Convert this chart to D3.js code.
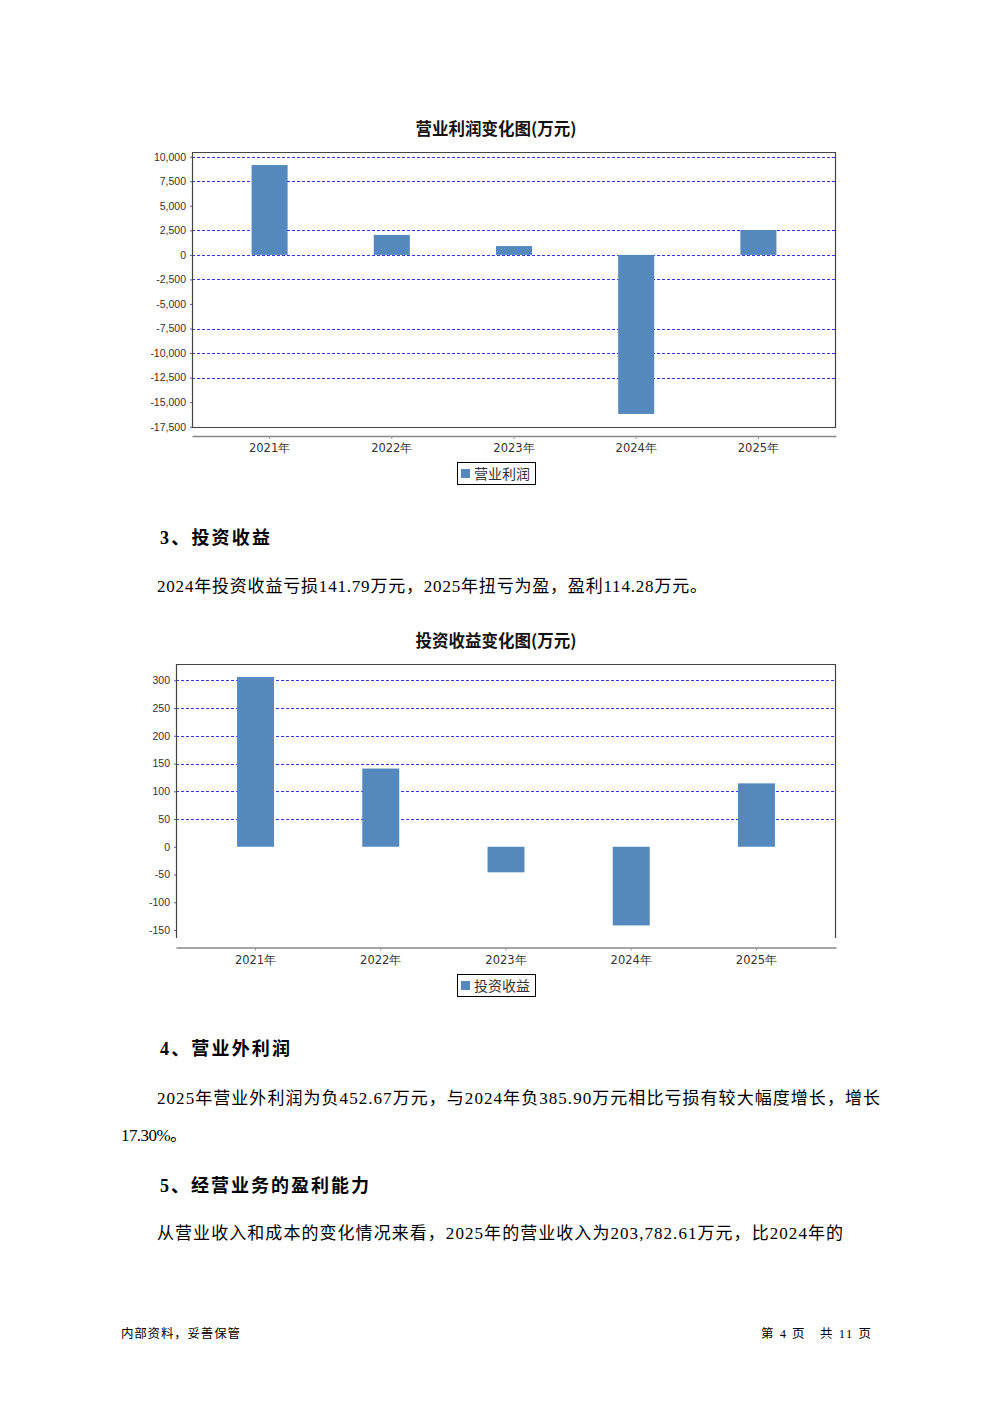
<!DOCTYPE html>
<html><head><meta charset="utf-8">
<script src="https://cdn.jsdelivr.net/npm/d3@7"></script>
<style>html,body{margin:0;padding:0;background:#fff;}svg{display:block;}</style>
</head><body>
<script>
const years = ["2021年","2022年","2023年","2024年","2025年"];
const profitValues = [9150, 2030, 900, -16200, 2540];
const profitTicks = [10000,7500,5000,2500,0,-2500,-5000,-7500,-10000,-12500,-15000,-17500];
const profitGrid = [10000,7500,2500,0,-2500,-7500,-10000,-12500,-17500];
const investValues = [306, 141, -46, -141.79, 114.28];
const investTicks = [300,250,200,150,100,50,0,-50,-100,-150];
const investGrid = [300,250,200,150,100,50];

const W = 992, H = 1403;
const svg = d3.select("body").append("svg").attr("width", W).attr("height", H);
svg.append("rect").attr("width", W).attr("height", H).attr("fill", "#fff");

const BAR = "#5589bd", GRID = "#3535ff";
const cjk = "'Noto Sans CJK SC', sans-serif";
const body = "'Liberation Serif', 'Noto Sans CJK SC', serif";
const fmt = d3.formatLocale({decimal: ".", thousands: ",", grouping: [3], currency: ["", ""], minus: "-"}).format(",");

function chart(opt) {
  const g = svg.append("g");
  const x = d3.scaleBand().domain(years).range([opt.left, opt.right]).paddingInner(0.705).paddingOuter(0.4875);
  const y = d3.scaleLinear().domain(opt.domain).range([opt.yBot, opt.yTop]);
  g.append("text").attr("x", 496).attr("y", opt.titleY).attr("text-anchor", "middle")
    .attr("font-family", cjk).attr("font-weight", "bold").attr("font-size", 16.5).attr("fill", "#111")
    .text(opt.title);
  g.selectAll("line.grid").data(opt.grid).join("line")
    .attr("x1", opt.left).attr("x2", opt.right)
    .attr("y1", d => Math.round(y(d)) + 0.5).attr("y2", d => Math.round(y(d)) + 0.5)
    .attr("stroke", GRID).attr("stroke-width", 1).attr("stroke-dasharray", "3,2");
  const fp = d3.path();
  fp.moveTo(opt.left + 0.5, opt.frameBot); fp.lineTo(opt.left + 0.5, opt.frameTop + 0.5);
  fp.lineTo(opt.right - 0.5, opt.frameTop + 0.5); fp.lineTo(opt.right - 0.5, opt.frameBot);
  if (opt.closeBottom) fp.lineTo(opt.left + 0.5, opt.frameBot);
  g.append("path").attr("d", fp.toString()).attr("fill", "none").attr("stroke", "#444").attr("stroke-width", 1.2);
  g.selectAll("rect.bar").data(opt.values).join("rect")
    .attr("x", (d, i) => x(years[i])).attr("width", x.bandwidth())
    .attr("y", d => y(Math.max(0, d))).attr("height", d => Math.abs(y(d) - y(0)))
    .attr("fill", BAR);
  const ya = d3.axisLeft(y).tickValues(opt.ticks).tickSize(2).tickPadding(4).tickFormat(fmt);
  const yg = g.append("g").attr("transform", `translate(${opt.left},0)`).call(ya);
  yg.select(".domain").remove();
  yg.selectAll("text").attr("font-family", "'Liberation Sans', Arial, sans-serif").attr("font-size", 10.5).attr("fill", "#333");
  yg.selectAll("line").attr("stroke", "#666");
  const xa = d3.axisBottom(x).tickSize(3).tickSizeOuter(0).tickPadding(5);
  const xg = g.append("g").attr("transform", `translate(0,${opt.xAxisY})`).call(xa);
  xg.select(".domain").attr("stroke", "#888").attr("stroke-width", 1.5);
  xg.selectAll("line").attr("stroke", "#999");
  xg.selectAll("text").attr("font-family", "'DejaVu Sans', sans-serif").attr("font-size", 11.5).attr("fill", "#333");
  const lg = g.append("g");
  lg.append("rect").attr("x", 457.5).attr("y", opt.legendY + 0.5).attr("width", 78).attr("height", 22)
    .attr("fill", "#fff").attr("stroke", "#000").attr("stroke-width", 1);
  lg.append("rect").attr("x", 461).attr("y", opt.legendY + 7).attr("width", 9).attr("height", 9).attr("fill", BAR);
  lg.append("text").attr("x", 474).attr("y", opt.legendY + 16.5).attr("font-family", cjk).attr("font-size", 14)
    .attr("fill", "#333").text(opt.legend);
}

chart({
  title: "营业利润变化图(万元)", titleY: 135, legend: "营业利润", legendY: 462,
  left: 192, right: 836, frameTop: 152, frameBot: 427.5, closeBottom: true,
  domain: [-17500, 10000], yBot: 426.7, yTop: 156.7, xAxisY: 436,
  values: profitValues, ticks: profitTicks, grid: profitGrid
});
chart({
  title: "投资收益变化图(万元)", titleY: 647, legend: "投资收益", legendY: 974,
  left: 176, right: 836, frameTop: 664, frameBot: 938, closeBottom: false,
  domain: [-150, 300], yBot: 930, yTop: 680.3, xAxisY: 947.5,
  values: investValues, ticks: investTicks, grid: investGrid
});

const texts = [
  {t: "3、投资收益", x: 160, y: 544, len: 110, bold: true, size: 18},
  {t: "2024年投资收益亏损141.79万元，2025年扭亏为盈，盈利114.28万元。", x: 157, y: 592, len: 550, size: 17},
  {t: "4、营业外利润", x: 160, y: 1055, len: 130, bold: true, size: 18},
  {t: "2025年营业外利润为负452.67万元，与2024年负385.90万元相比亏损有较大幅度增长，增长", x: 157, y: 1104, len: 723, size: 17},
  {t: "17.30%。", x: 121, y: 1141, len: 66, size: 17},
  {t: "5、经营业务的盈利能力", x: 160, y: 1192, len: 209, bold: true, size: 18},
  {t: "从营业收入和成本的变化情况来看，2025年的营业收入为203,782.61万元，比2024年的", x: 157, y: 1239, len: 686, size: 17},
  {t: "内部资料，妥善保管", x: 121, y: 1338, len: 119, size: 12.5},
  {t: "第 4 页   共 11 页", x: 761, y: 1338, len: 110, size: 12.5}
];
svg.selectAll("text.doc").data(texts).join("text").attr("class", "doc")
  .attr("x", d => d.x).attr("y", d => d.y)
  .attr("font-family", body).attr("font-size", d => d.size)
  .attr("font-weight", d => d.bold ? "bold" : "normal")
  .attr("textLength", d => d.len).attr("lengthAdjust", "spacing")
  .attr("fill", "#000").attr("xml:space", "preserve").style("white-space", "pre")
  .text(d => d.t);
</script>
</body></html>
